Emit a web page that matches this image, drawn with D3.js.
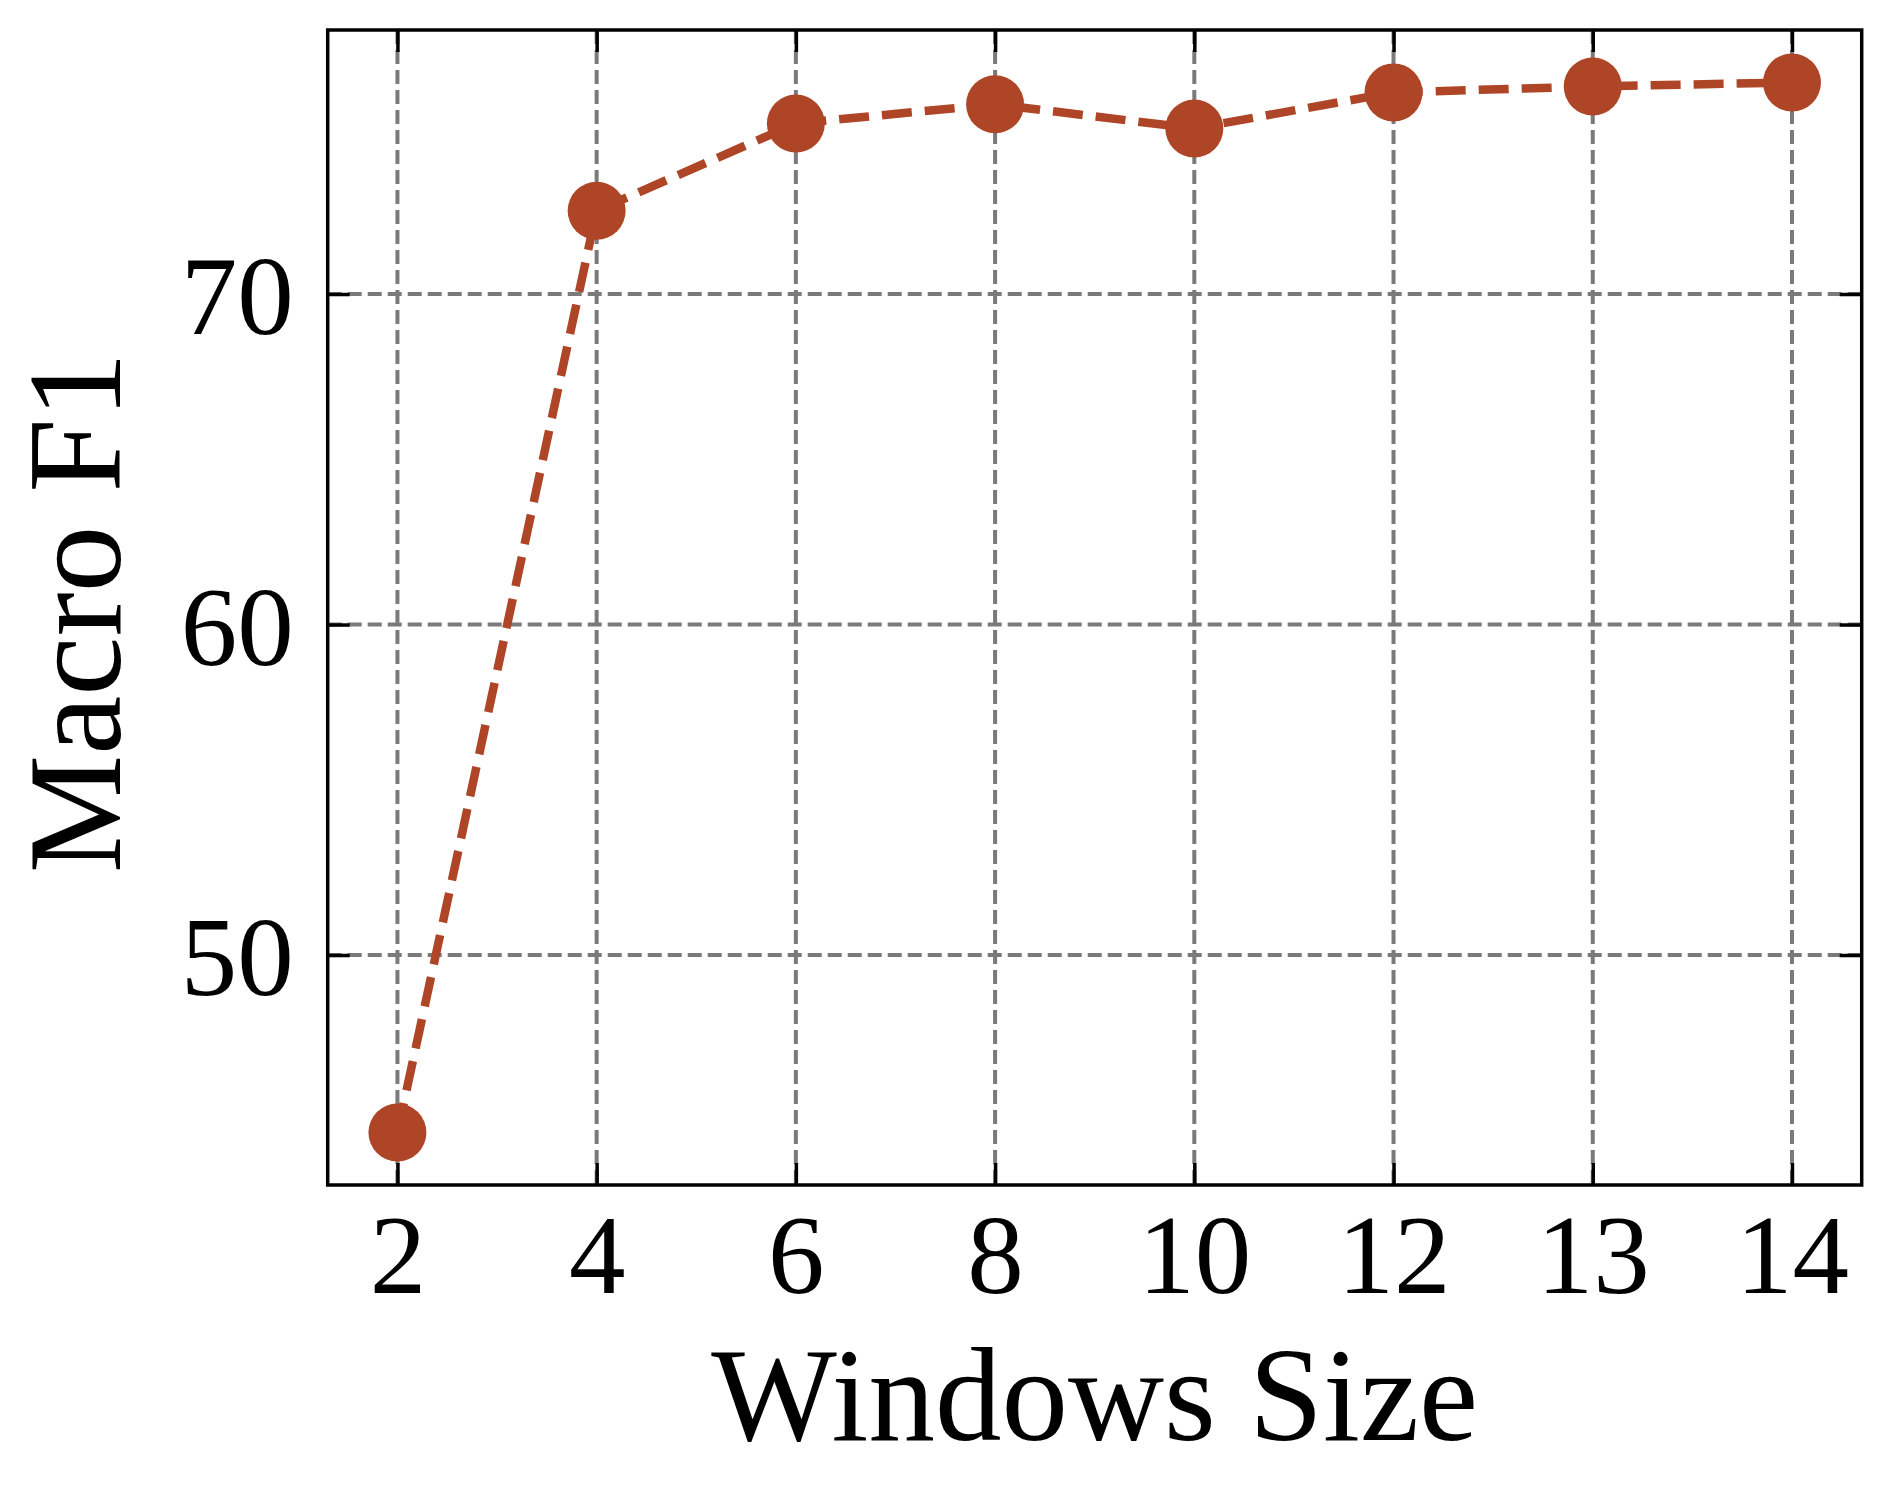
<!DOCTYPE html>
<html>
<head>
<meta charset="utf-8">
<script src="https://cdn.jsdelivr.net/npm/d3@7"></script>
<style>
  body { margin: 0; background: #fff; }
  svg text { font-family: "Liberation Serif", "Times New Roman", serif; fill: #000; }
</style>
</head>
<body>
<svg id="chart"></svg>
<script>
// window sizes on the x axis (evenly spaced, categorical)
const windowSizes = [2, 4, 6, 8, 10, 12, 13, 14];
// Macro F1 for each window size
const macroF1 = [44.63, 72.52, 75.16, 75.74, 75.01, 76.10, 76.28, 76.40];
const yTicks = [50, 60, 70];
const xTitle = "Windows Size";
const yTitle = "Macro F1";

const width = 1892, height = 1500;
const plotLeft = 327.7, plotRight = 1861.7, plotTop = 30, plotBottom = 1185;
const lineColor = "#ae4526";

let svg = d3.select("#chart")
    .attr("width", width)
    .attr("height", height);

svg.append("rect").attr("width", width).attr("height", height).attr("fill", "#fff");

// matplotlib style 5% margins
let x = d3.scalePoint()
    .domain(windowSizes)
    .range([plotLeft, plotRight])
    .padding(0.35);

let yMin = d3.min(macroF1), yMax = d3.max(macroF1);
let pad = (yMax - yMin) * 0.05;
let y = d3.scaleLinear()
    .domain([yMin - pad, yMax + pad])
    .range([plotBottom, plotTop]);

// grid
let grid = svg.append("g")
    .attr("stroke", "#7a7a7a")
    .attr("stroke-width", 4)
    .attr("stroke-dasharray", "14,6");

grid.selectAll(".vg")
    .data(windowSizes)
    .join("line")
    .attr("x1", d => x(d)).attr("x2", d => x(d))
    .attr("y1", plotTop).attr("y2", plotBottom);

grid.selectAll(".hg")
    .data(yTicks)
    .join("line")
    .attr("x1", plotLeft).attr("x2", plotRight)
    .attr("y1", d => y(d)).attr("y2", d => y(d));

// data line and markers
let points = windowSizes.map((w, i) => ({ w: w, v: macroF1[i] }));

svg.append("path")
    .datum(points)
    .attr("fill", "none")
    .attr("stroke", lineColor)
    .attr("stroke-width", 8.5)
    .attr("stroke-dasharray", "30,13")
    .attr("d", d3.line().x(d => x(d.w)).y(d => y(d.v)));

svg.append("g")
    .selectAll("circle")
    .data(points)
    .join("circle")
    .attr("cx", d => x(d.w))
    .attr("cy", d => y(d.v))
    .attr("r", 29)
    .attr("fill", lineColor);

// axes, ticks pointing inward on all four sides
function styleAxis(g) {
    g.select(".domain").remove();
    g.selectAll(".tick line").attr("stroke", "#000").attr("stroke-width", 3.5);
}

let xAxis = svg.append("g")
    .attr("transform", `translate(0,${plotBottom})`)
    .call(d3.axisBottom(x).tickSizeInner(-22).tickSizeOuter(0))
    .call(styleAxis);
xAxis.selectAll(".tick text")
    .attr("y", 108)
    .attr("dy", null)
    .attr("font-size", 113);

svg.append("g")
    .attr("transform", `translate(0,${plotTop})`)
    .call(d3.axisTop(x).tickSizeInner(-22).tickSizeOuter(0).tickFormat(""))
    .call(styleAxis);

let yAxis = svg.append("g")
    .attr("transform", `translate(${plotLeft},0)`)
    .call(d3.axisLeft(y).tickValues(yTicks).tickSizeInner(-22).tickSizeOuter(0))
    .call(styleAxis);
yAxis.selectAll(".tick text")
    .attr("x", -34)
    .attr("dy", "0.35em")
    .attr("font-size", 113);

svg.append("g")
    .attr("transform", `translate(${plotRight},0)`)
    .call(d3.axisRight(y).tickValues(yTicks).tickSizeInner(-22).tickSizeOuter(0).tickFormat(""))
    .call(styleAxis);

// frame
svg.append("rect")
    .attr("x", plotLeft).attr("y", plotTop)
    .attr("width", plotRight - plotLeft).attr("height", plotBottom - plotTop)
    .attr("fill", "none")
    .attr("stroke", "#000")
    .attr("stroke-width", 3.5);

// titles
svg.append("text")
    .attr("x", (plotLeft + plotRight) / 2)
    .attr("y", 1440)
    .attr("text-anchor", "middle")
    .attr("font-size", 133)
    .text(xTitle);

svg.append("text")
    .attr("transform", `translate(120,${(plotTop + plotBottom) / 2 + 5}) rotate(-90)`)
    .attr("text-anchor", "middle")
    .attr("font-size", 133)
    .text(yTitle);
</script>
</body>
</html>
